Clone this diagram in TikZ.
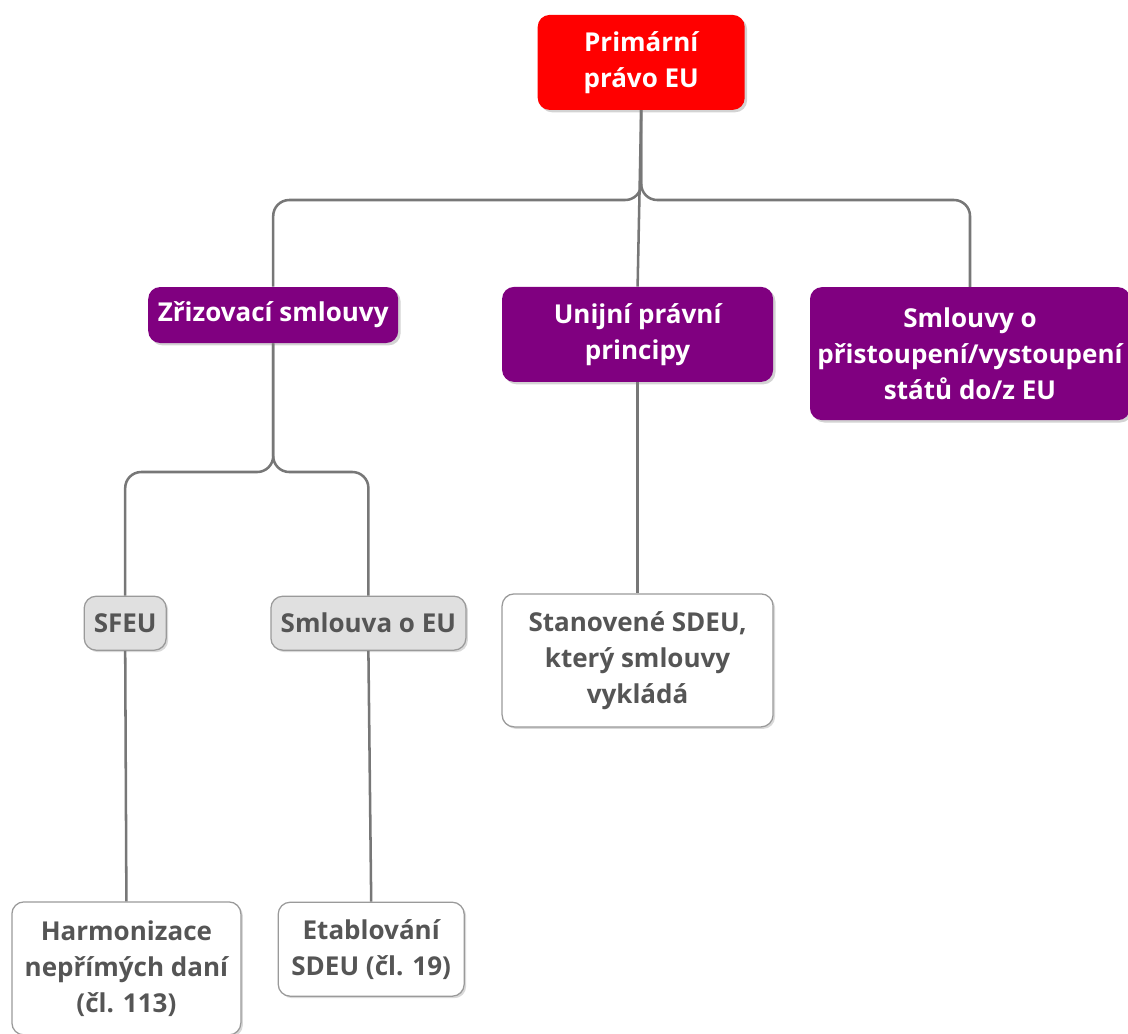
\documentclass[tikz,border=0pt]{standalone}
\usepackage{fontspec}
\setmainfont{Open Sans}
\usepackage{tikz}
\usetikzlibrary{shadows}

\definecolor{primred}{HTML}{FF0000}
\definecolor{treepurple}{HTML}{800080}
\definecolor{boxgray}{HTML}{E0E0E0}
\definecolor{edgegray}{HTML}{9A9A9A}
\definecolor{linegray}{HTML}{777777}
\definecolor{textgray}{HTML}{555555}

\begin{document}
\begin{tikzpicture}[
    every node/.style={font=\bfseries\fontsize{18.5}{25.5}\selectfont, align=center, inner sep=0pt},
    topbox/.style={rectangle, rounded corners=0.3cm, fill=primred, text=white,
        drop shadow={shadow xshift=0.06cm, shadow yshift=-0.06cm, opacity=0.35}},
    mainbox/.style={rectangle, rounded corners=0.3cm, fill=treepurple, text=white,
        drop shadow={shadow xshift=0.06cm, shadow yshift=-0.06cm, opacity=0.35}},
    grybox/.style={rectangle, rounded corners=0.3cm, draw=edgegray, line width=0.9pt, fill=boxgray, text=textgray,
        drop shadow={shadow xshift=0.05cm, shadow yshift=-0.05cm, opacity=0.3}},
    leafbox/.style={rectangle, rounded corners=0.3cm, draw=edgegray, line width=0.9pt, fill=white, text=textgray,
        drop shadow={shadow xshift=0.05cm, shadow yshift=-0.05cm, opacity=0.3}},
    link/.style={draw=linegray, line width=1.8pt, rounded corners=0.4cm}
]
    \useasboundingbox (0,0) rectangle (28.2,-25.825);

    % Root
    \node[topbox, minimum width=5.175cm, minimum height=2.375cm] (PRIM) at (16.03,-1.56) {Primární\\právo EU};

    % First level
    \node[mainbox, minimum width=6.25cm, minimum height=1.4cm] (ZRIZ) at (6.83,-7.875) {Zřizovací smlouvy};
    \node[mainbox, minimum width=6.775cm, minimum height=2.375cm] (UNIJ) at (15.94,-8.36) {Unijní právní\\principy};
    \node[mainbox, minimum width=8.0cm, minimum height=3.325cm] (PRIST) at (24.25,-8.84) {Smlouvy o\\přistoupení/vystoupení\\států do/z EU};

    % Treaties
    \node[grybox, minimum width=2.05cm, minimum height=1.35cm] (SFEU) at (3.13,-15.58) {SFEU};
    \node[grybox, minimum width=4.875cm, minimum height=1.35cm] (SEU) at (9.21,-15.58) {Smlouva o EU};

    % Leaves
    \node[leafbox, minimum width=6.775cm, minimum height=3.325cm] (SDEU) at (15.94,-16.51) {Stanovené SDEU,\\který smlouvy\\vykládá};
    \node[leafbox, minimum width=5.725cm, minimum height=3.325cm] (HARM) at (3.16,-24.21) {Harmonizace\\nepřímých daní\\(čl. 113)};
    \node[leafbox, minimum width=4.65cm, minimum height=2.35cm] (ETAB) at (9.28,-23.73) {Etablování\\SDEU (čl. 19)};

    % Connections
    \draw[link] (PRIM.south) -- (PRIM.south |- 0,-5.0) -- (ZRIZ.north |- 0,-5.0) -- (ZRIZ.north);
    \draw[link] (PRIM.south) -- (UNIJ.north);
    \draw[link] (PRIM.south) -- (PRIM.south |- 0,-5.0) -- (PRIST.north |- 0,-5.0) -- (PRIST.north);
    \draw[link] (ZRIZ.south) -- (ZRIZ.south |- 0,-11.8) -- (SFEU.north |- 0,-11.8) -- (SFEU.north);
    \draw[link] (ZRIZ.south) -- (ZRIZ.south |- 0,-11.8) -- (SEU.north |- 0,-11.8) -- (SEU.north);
    \draw[link] (UNIJ.south) -- (SDEU.north);
    \draw[link] (SFEU.south) -- (HARM.north);
    \draw[link] (SEU.south) -- (ETAB.north);
\end{tikzpicture}
\end{document}
